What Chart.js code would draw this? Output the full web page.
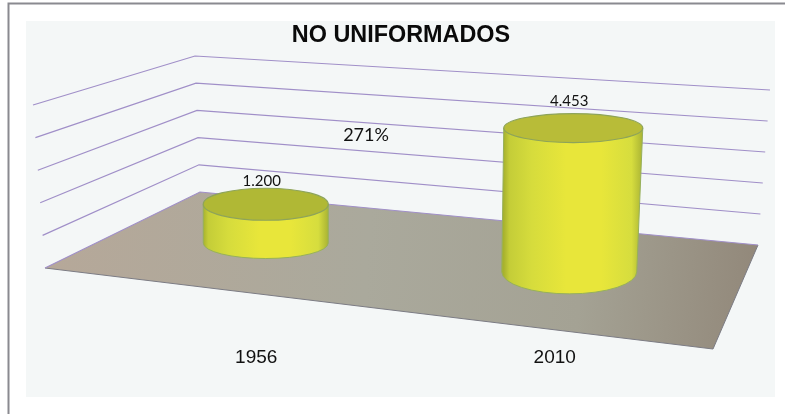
<!DOCTYPE html>
<html>
<head>
<meta charset="utf-8">
<title>No uniformados</title>
<script src="https://cdn.jsdelivr.net/npm/chart.js@4/dist/chart.umd.min.js"></script>
<style>
	html, body { margin: 0; padding: 0; background: #fff; }
	#wrap { position: relative; width: 785px; height: 414px; }
</style>
</head>
<body>
<div id="wrap"><canvas id="chart" width="785" height="414"></canvas></div>
<script>
// data
var categories = ['1956', '2010'];
var personnel = [1200, 4453];
var valueTicks = [0, 1000, 2000, 3000, 4000, 5000];
var valueLabels = ['1.200', '4.453'];
var growthNote = '271%';

// fake 3d room, screen pixels: floor corners and where the wall lines end at the axis max
var room = {
	floor: { backLeft: [200, 192], backRight: [758, 245], frontRight: [713, 349], frontLeft: [45, 268] },
	wallTop: { left: [33, 105], back: [195, 56], right: [770, 90] }
};

// the two cylinders are not the same shape in the picture (perspective)
var cylinderLook = [
	{ topRx: 62.5, baseRx: 62.5, topRy: 16, baseRy: 15.5, lean: 0, lid: '#b0b835', labelLift: 0 },
	{ topRx: 69.5, baseRx: 67.5, topRy: 14.5, baseRy: 22, lean: 4, lid: '#b8bc38', labelLift: 5 }
];

function lerp(a, b, t) {
	return [a[0] + (b[0] - a[0]) * t, a[1] + (b[1] - a[1]) * t];
}

// plot x to screen x, and the floor spot under a bar
function floorPoint(px) {
	var x = px * 1.0168 + 5.2;
	return [x, 243 + (x - 265.5) * 0.095];
}

var pseudo3d = {
	id: 'pseudo3d',
	beforeDraw: function(chart) {
		var ctx = chart.ctx;
		ctx.save();
		ctx.fillStyle = '#ffffff';
		ctx.fillRect(0, 0, 785, 414);
		ctx.fillStyle = '#f4f7f7';
		ctx.fillRect(26, 21, 749, 376);
		ctx.strokeStyle = '#8a8a90';
		ctx.lineWidth = 2;
		ctx.beginPath();
		ctx.moveTo(8.5, 414);
		ctx.lineTo(8.5, 3.5);
		ctx.lineTo(785, 3.5);
		ctx.stroke();
		ctx.restore();
	},
	beforeDatasetsDraw: function(chart) {
		var ctx = chart.ctx, f = room.floor, w = room.wallTop;
		var yScale = chart.scales.y;
		ctx.save();

		// floor
		var g = ctx.createLinearGradient(45, 250, 758, 300);
		g.addColorStop(0, '#b6a899');
		g.addColorStop(0.45, '#aaa99c');
		g.addColorStop(0.75, '#a4a294');
		g.addColorStop(1, '#92887a');
		ctx.fillStyle = g;
		ctx.beginPath();
		ctx.moveTo(f.backLeft[0], f.backLeft[1]);
		ctx.lineTo(f.backRight[0], f.backRight[1]);
		ctx.lineTo(f.frontRight[0], f.frontRight[1]);
		ctx.lineTo(f.frontLeft[0], f.frontLeft[1]);
		ctx.closePath();
		ctx.fill();

		ctx.strokeStyle = '#7c7c84';
		ctx.lineWidth = 1;
		ctx.beginPath();
		ctx.moveTo(f.frontLeft[0], f.frontLeft[1]);
		ctx.lineTo(f.frontRight[0], f.frontRight[1]);
		ctx.lineTo(f.backRight[0], f.backRight[1]);
		ctx.stroke();

		// wall lines, one for each tick of the value axis
		ctx.strokeStyle = '#a08fc8';
		ctx.lineWidth = 1.2;
		yScale.ticks.forEach(function(tick) {
			var t = (yScale.bottom - yScale.getPixelForValue(tick.value)) / (yScale.bottom - yScale.top);
			var a = lerp(f.frontLeft, w.left, t);
			var b = lerp(f.backLeft, w.back, t);
			var c = lerp(f.backRight, w.right, t);
			ctx.beginPath();
			ctx.moveTo(a[0], a[1]);
			ctx.lineTo(b[0], b[1]);
			ctx.lineTo(c[0], c[1]);
			ctx.stroke();
		});

		ctx.fillStyle = '#111';
		ctx.font = '18px Lato, "Open Sans", sans-serif';
		ctx.textAlign = 'center';
		ctx.textBaseline = 'middle';
		ctx.fillText(growthNote, 366, 135);
		ctx.restore();
	},
	afterDatasetsDraw: function(chart) {
		var ctx = chart.ctx;
		var yScale = chart.scales.y;
		// plot height is larger than the drawn height of the cylinders
		var k = 161.5 / (yScale.bottom - yScale.top);

		chart.getDatasetMeta(0).data.forEach(function(bar, i) {
			var look = cylinderLook[i];
			var spot = floorPoint(bar.x);
			var h = (bar.base - bar.y) * k;
			var bx = spot[0], by = spot[1];
			var tx = bx + look.lean, ty = by - h;

			ctx.save();
			// side
			var g = ctx.createLinearGradient(tx - look.topRx, 0, tx + look.topRx, 0);
			g.addColorStop(0, '#a8b22e');
			g.addColorStop(0.04, '#c4cd38');
			g.addColorStop(0.2, '#d6dc3c');
			g.addColorStop(0.45, '#e8e63a');
			g.addColorStop(0.7, '#e8e63a');
			g.addColorStop(0.92, '#d6dd3e');
			g.addColorStop(1, '#a9b334');
			ctx.fillStyle = g;
			ctx.strokeStyle = '#97b05c';
			ctx.lineWidth = 1;
			ctx.beginPath();
			ctx.moveTo(tx - look.topRx, ty);
			ctx.lineTo(bx - look.baseRx, by);
			ctx.ellipse(bx, by, look.baseRx, look.baseRy, 0, Math.PI, 0, true);
			ctx.lineTo(tx + look.topRx, ty);
			ctx.closePath();
			ctx.fill();
			ctx.stroke();

			// lid
			ctx.fillStyle = look.lid;
			ctx.strokeStyle = '#8ea45a';
			ctx.lineWidth = 1.2;
			ctx.beginPath();
			ctx.ellipse(tx, ty, look.topRx, look.topRy, 0, 0, Math.PI * 2);
			ctx.fill();
			ctx.stroke();

			// value over the lid
			ctx.fillStyle = '#111';
			ctx.font = '15px Lato, "Open Sans", sans-serif';
			ctx.textAlign = 'center';
			ctx.textBaseline = 'bottom';
			ctx.fillText(valueLabels[i], tx - 4, ty - look.topRy - look.labelLift);
			ctx.restore();
		});
	}
};

new Chart(document.getElementById('chart').getContext('2d'), {
	type: 'bar',
	plugins: [pseudo3d],
	data: {
		labels: categories,
		datasets: [{
			label: 'NO UNIFORMADOS',
			data: personnel,
			backgroundColor: 'rgba(0,0,0,0)',
			borderWidth: 0,
			yAxisID: 'y'
		}]
	},
	options: {
		responsive: false,
		animation: false,
		layout: { padding: { left: 17, right: 0, top: 0, bottom: 43 } },
		plugins: {
			legend: { display: false },
			tooltip: { enabled: false },
			title: {
				display: true,
				text: 'NO UNIFORMADOS',
				color: '#0a0a0a',
				font: { family: '"Liberation Sans", Arial, sans-serif', size: 23.4, weight: 'bold' },
				padding: { top: 22, bottom: 8 }
			}
		},
		scales: {
			x: {
				grid: { display: false },
				border: { display: false },
				ticks: {
					color: '#111',
					padding: 2,
					font: { family: '"Liberation Sans", Arial, sans-serif', size: 19 }
				}
			},
			y: {
				position: 'left',
				min: 0,
				max: 5000,
				grid: { display: false },
				border: { display: false },
				ticks: { display: false },
				afterBuildTicks: function(scale) {
					scale.ticks = valueTicks.map(function(v) { return { value: v }; });
				},
				afterFit: function(scale) { scale.width = 90; }
			},
			// only keeps the right side of the plot clear so the title stays centred on the panel
			spacer: {
				position: 'right',
				display: true,
				min: 0,
				max: 1,
				grid: { display: false },
				border: { display: false },
				ticks: { display: false },
				afterFit: function(scale) { scale.width = 81; }
			}
		}
	}
});
</script>
</body>
</html>
